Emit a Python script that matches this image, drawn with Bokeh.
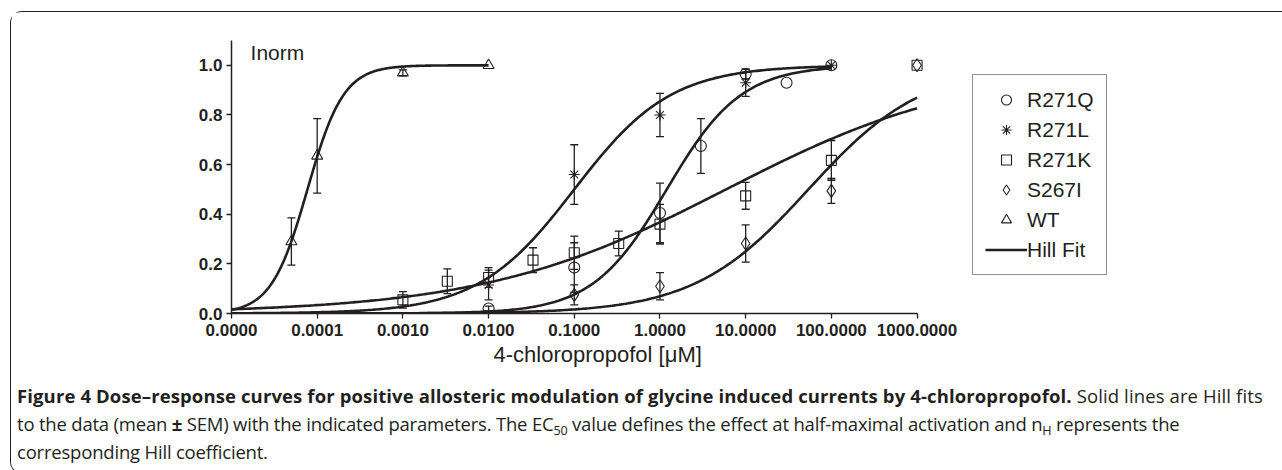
import numpy as np
from bokeh.plotting import figure
from bokeh.models import (Range1d, FixedTicker, PrintfTickFormatter, Label, Title,
                          Legend, LegendItem, Div)
from bokeh.layouts import column
from bokeh.embed import file_html
from bokeh.resources import INLINE

INK = "#231f20"
FONT = "Liberation Sans"

# ---------------- data ----------------
series_names = ["R271Q", "R271L", "R271K", "S267I", "WT"]
series_markers = ["circle", "asterisk", "square", "diamond", "triangle"]

r271q_x = [0.01, 0.1, 1.0, 3.0, 10.0, 30.0, 100.0]
r271q_y = [0.02, 0.185, 0.405, 0.675, 0.965, 0.93, 1.0]
r271q_sem = [0.01, 0.10, 0.12, 0.11, 0.02, 0.0, 0.0]

r271l_x = [0.01, 0.1, 1.0, 10.0, 100.0]
r271l_y = [0.115, 0.56, 0.80, 0.93, 1.0]
r271l_sem = [0.06, 0.12, 0.087, 0.055, 0.0]

r271k_x = [0.001, 0.0033, 0.01, 0.033, 0.1, 0.33, 1.0, 10.0, 100.0, 1000.0]
r271k_y = [0.055, 0.13, 0.145, 0.215, 0.245, 0.282, 0.36, 0.474, 0.617, 1.0]
r271k_sem = [0.033, 0.05, 0.04, 0.05, 0.067, 0.05, 0.08, 0.054, 0.08, 0.0]

s267i_x = [0.1, 1.0, 10.0, 100.0, 1000.0]
s267i_y = [0.075, 0.11, 0.282, 0.494, 1.0]
s267i_sem = [0.04, 0.055, 0.075, 0.05, 0.0]

wt_x = [5e-5, 1e-4, 1e-3, 1e-2]
wt_y = [0.29, 0.635, 0.97, 1.0]
wt_sem = [0.095, 0.15, 0.012, 0.0]

# Hill fit parameters (EC50 in uM, Hill coefficient), curve end
fit_ec50 = [1.2, 0.1, 5.9, 54.0, 7.7e-5]
fit_nh = [1.0, 0.77, 0.305, 0.65, 2.06]
fit_xmax = [100.0, 100.0, 1000.0, 1000.0, 0.01]
fit_xmin = 1e-5

x_ticks = [1e-5, 1e-4, 1e-3, 1e-2, 1e-1, 1.0, 10.0, 100.0, 1000.0]
y_ticks = [0.0, 0.2, 0.4, 0.6, 0.8, 1.0]

xs_all = [r271q_x, r271l_x, r271k_x, s267i_x, wt_x]
ys_all = [r271q_y, r271l_y, r271k_y, s267i_y, wt_y]
sem_all = [r271q_sem, r271l_sem, r271k_sem, s267i_sem, wt_sem]

# ---------------- figure ----------------
# frame spans to the right edge; the x axis is bounded to 1e-5..1e3
p = figure(width=1270, height=365, x_axis_type="log",
           x_range=Range1d(1e-5, 1.79e7), y_range=Range1d(0, 1.1),
           output_backend="svg", toolbar_location=None,
           min_border_left=220, min_border_right=0,
           min_border_top=28, min_border_bottom=64,
           background_fill_color="white", border_fill_color="white")
p.outline_line_color = None
p.grid.visible = False

# fitted curves
curve_renderers = []
for ec50, nh, xmax in zip(fit_ec50, fit_nh, fit_xmax):
    xc = np.logspace(np.log10(fit_xmin), np.log10(xmax), 300)
    yc = 1.0 / (1.0 + (ec50 / xc) ** nh)
    r = p.line(xc, yc, line_color=INK, line_width=2.6)
    curve_renderers.append(r)

# error bars + markers
marker_renderers = []
for xs, ys, sems, mk in zip(xs_all, ys_all, sem_all, series_markers):
    ex = [x for x, s in zip(xs, sems) if s > 0]
    lo = [y - s for y, s in zip(ys, sems) if s > 0]
    hi = [y + s for y, s in zip(ys, sems) if s > 0]
    p.segment(ex, lo, ex, hi, line_color=INK, line_width=1.3)
    p.scatter(ex + ex, lo + hi, marker="dash", size=8, line_color=INK, line_width=1.3)
    size = {"circle": 11, "asterisk": 11, "square": 10, "diamond": 13, "triangle": 11}[mk]
    r = p.scatter(xs, ys, marker=mk, size=size, fill_color=None,
                  line_color=INK, line_width=1.1)
    marker_renderers.append(r)

# axes
p.xaxis.ticker = FixedTicker(ticks=x_ticks)
p.xaxis.formatter = PrintfTickFormatter(format="%.4f")
p.xaxis.bounds = (1e-5, 1000)
p.yaxis.ticker = FixedTicker(ticks=y_ticks)
p.yaxis.formatter = PrintfTickFormatter(format="%.1f")
for ax in (p.xaxis, p.yaxis):
    ax.axis_line_color = INK
    ax.axis_line_width = 1.5
    ax.major_tick_line_color = INK
    ax.major_tick_line_width = 1.3
    ax.major_tick_in = 0
    ax.major_tick_out = 5
    ax.minor_tick_line_color = None
    ax.major_label_text_font = FONT
    ax.major_label_text_font_style = "bold"
    ax.major_label_text_font_size = "17px"
    ax.major_label_text_color = INK
p.xaxis.major_label_standoff = 5
p.yaxis.major_label_standoff = 4

p.add_layout(Label(x=1.67e-5, y=1.05, text="Inorm", text_font=FONT,
                   text_font_size="21px", text_color=INK,
                   text_baseline="alphabetic"))
p.add_layout(Title(text="4-chloropropofol [μM]", align="left", offset=262,
                   standoff=2, text_font=FONT, text_font_size="22px",
                   text_font_style="normal", text_color=INK), "below")

items = [LegendItem(label=n, renderers=[r]) for n, r in zip(series_names, marker_renderers)]
items.append(LegendItem(label="Hill Fit", renderers=[curve_renderers[0]]))
legend = Legend(items=items, location=(741, 38), margin=0, padding=12,
                glyph_width=42, glyph_height=25, label_height=25, spacing=5,
                label_standoff=0, label_text_font=FONT, label_text_font_size="21px",
                label_text_color=INK, border_line_color=INK, border_line_width=1,
                background_fill_color="white", background_fill_alpha=1)
p.add_layout(legend)

sub = "<sub style='font-size:68%;vertical-align:-0.3em;line-height:0'>{}</sub>"
caption_html = (
    "<span style='letter-spacing:0.12px'><b>Figure 4 Dose\u2013response curves for positive "
    "allosteric modulation of glycine induced currents by 4-chloropropofol.</b> "
    "Solid lines are Hill fits</span><br>"
    "<span style='letter-spacing:-0.2px'>to the data (mean <b>\u00b1</b> SEM) with the "
    "indicated parameters. The EC" + sub.format("50") + " value defines the effect at "
    "half-maximal activation and n" + sub.format("H") + " represents the</span><br>"
    "<span style='letter-spacing:-0.2px'>corresponding Hill coefficient.</span>"
)
caption = Div(text=caption_html, width=1270, height=86,
              styles={"font-family": "'Open Sans', sans-serif",
                      "font-size": "18.5px", "line-height": "28px", "color": INK,
                      "padding-left": "1px", "white-space": "nowrap"})

layout = column(p, caption, margin=(11, 0, 0, 10),
                styles={"border-top": "1.5px solid " + INK,
                        "border-left": "1.5px solid " + INK,
                        "border-bottom": "1.5px solid " + INK,
                        "border-top-left-radius": "12px",
                        "border-bottom-left-radius": "12px"})

with open("out.html", "w") as f:
    f.write(file_html(layout, INLINE))
